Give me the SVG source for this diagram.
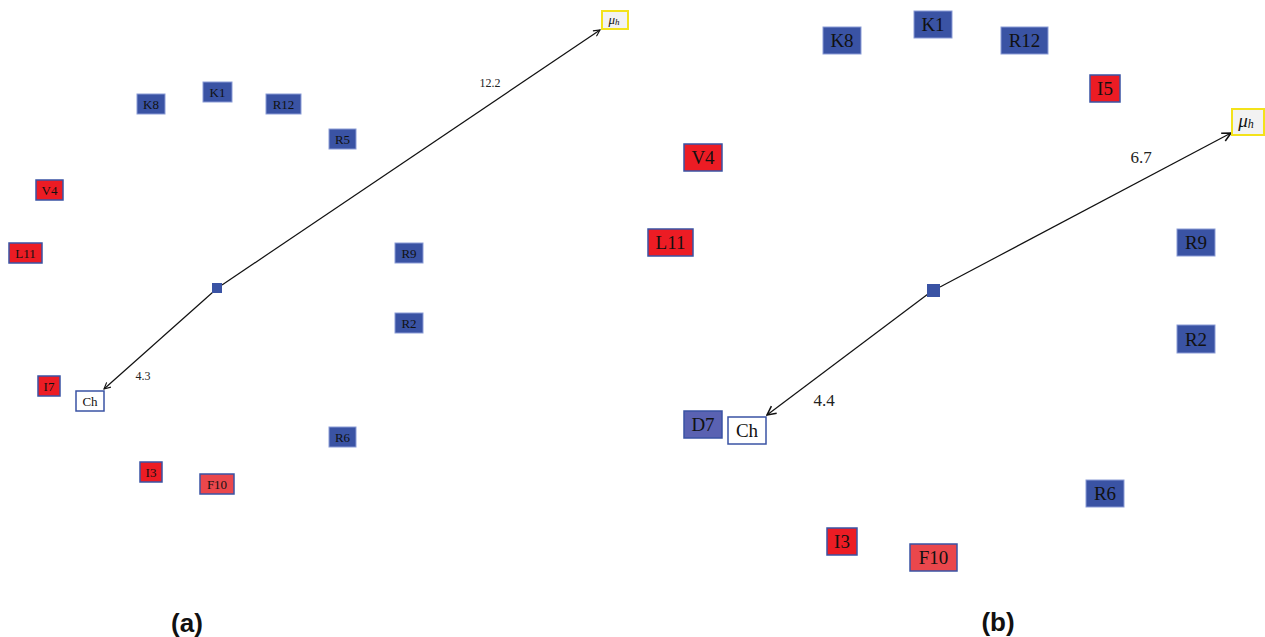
<svg xmlns="http://www.w3.org/2000/svg" width="1265" height="637" viewBox="0 0 1265 637">
<style>
.b{fill:#3a53a4;stroke:#8a9bd6;stroke-width:1}
.r{fill:#ec1c24;stroke:#3a53a4;stroke-width:1.5}
.f{fill:#ea474c;stroke:#3a53a4;stroke-width:1.5}
.d{fill:#5a62b2;stroke:#3a53a4;stroke-width:1.5}
.c{fill:#ffffff;stroke:#3a53a4;stroke-width:1.5}
.m{fill:#f2f2f2;stroke:#f3e21a;stroke-width:2}
.sq{fill:#3a53a4}
.ta{font-family:"Liberation Serif",serif;font-size:13px;fill:#111;text-anchor:middle;dominant-baseline:central}
.tb{font-family:"Liberation Serif",serif;font-size:19px;fill:#111;text-anchor:middle;dominant-baseline:central}
.la{font-family:"Liberation Serif",serif;font-size:12px;fill:#222;text-anchor:middle}
.lb{font-family:"Liberation Serif",serif;font-size:17px;fill:#222;text-anchor:middle}
.cap{font-family:"Liberation Sans",sans-serif;font-size:26px;font-weight:bold;fill:#111;text-anchor:middle}
.e{stroke:#111;stroke-width:1.2;fill:none}
</style>
<defs>
<marker id="ah" viewBox="0 0 10 10" refX="9" refY="5" markerWidth="8" markerHeight="8" markerUnits="userSpaceOnUse" orient="auto"><path d="M1,1 L9,5 L1,9" fill="none" stroke="#111" stroke-width="1.4"/></marker>
<marker id="ahb" viewBox="0 0 10 10" refX="9" refY="5" markerWidth="11" markerHeight="11" markerUnits="userSpaceOnUse" orient="auto"><path d="M1,1 L9,5 L1,9" fill="none" stroke="#111" stroke-width="1.4"/></marker>
</defs>
<g id="connectors">
<line class="e" x1="222" y1="285" x2="600" y2="30" marker-end="url(#ah)"/>
<line class="e" x1="213" y1="292" x2="104" y2="389" marker-end="url(#ah)"/>
<line class="e" x1="940" y1="287" x2="1231" y2="133" marker-end="url(#ahb)"/>
<line class="e" x1="928" y1="294" x2="767" y2="415" marker-end="url(#ahb)"/>
</g>
<g id="labels">
<text class="la" x="490" y="87">12.2</text>
<text class="la" x="143" y="380">4.3</text>
<text class="lb" x="1141" y="163">6.7</text>
<text class="lb" x="824" y="406">4.4</text>
</g>
<g id="a-hub"><rect class="sq" x="212" y="283" width="10" height="10"/></g>
<g id="a-mu"><rect class="m" x="602" y="11" width="26" height="18"/><text class="ta" x="614" y="19" font-style="italic">μ<tspan font-size="9" dy="3">h</tspan></text></g>
<g id="a-K8"><rect class="b" x="137" y="94" width="28" height="20"/><text class="ta" x="151" y="104">K8</text></g>
<g id="a-K1"><rect class="b" x="203" y="82" width="29" height="20"/><text class="ta" x="217.5" y="92">K1</text></g>
<g id="a-R12"><rect class="b" x="266" y="94" width="35" height="20"/><text class="ta" x="283.5" y="104">R12</text></g>
<g id="a-R5"><rect class="b" x="329" y="129" width="27" height="20"/><text class="ta" x="342.5" y="139">R5</text></g>
<g id="a-V4"><rect class="r" x="36" y="180" width="27" height="20"/><text class="ta" x="49.5" y="190">V4</text></g>
<g id="a-L11"><rect class="r" x="9" y="243" width="33" height="20"/><text class="ta" x="25.5" y="253">L11</text></g>
<g id="a-R9"><rect class="b" x="395" y="243" width="28" height="20"/><text class="ta" x="409" y="253">R9</text></g>
<g id="a-R2"><rect class="b" x="395" y="313" width="28" height="20"/><text class="ta" x="409" y="323">R2</text></g>
<g id="a-I7"><rect class="r" x="38" y="376" width="22" height="20"/><text class="ta" x="49" y="386">I7</text></g>
<g id="a-Ch"><rect class="c" x="76" y="391" width="28" height="20"/><text class="ta" x="90" y="401">Ch</text></g>
<g id="a-R6"><rect class="b" x="329" y="427" width="27" height="20"/><text class="ta" x="342.5" y="437">R6</text></g>
<g id="a-I3"><rect class="r" x="140" y="462" width="22" height="20"/><text class="ta" x="151" y="472">I3</text></g>
<g id="a-F10"><rect class="f" x="200" y="474" width="34" height="20"/><text class="ta" x="217" y="484">F10</text></g>
<text class="cap" x="187" y="632">(a)</text>
<g id="b-hub"><rect class="sq" x="927" y="284" width="13" height="13"/></g>
<g id="b-mu"><rect class="m" x="1232" y="109" width="32" height="26"/><text class="tb" x="1246" y="120" font-style="italic">μ<tspan font-size="12" dy="4">h</tspan></text></g>
<g id="b-K1"><rect class="b" x="914" y="11" width="38" height="27"/><text class="tb" x="933" y="24.5">K1</text></g>
<g id="b-K8"><rect class="b" x="823" y="27" width="38" height="27"/><text class="tb" x="842" y="40.5">K8</text></g>
<g id="b-R12"><rect class="b" x="1001" y="27" width="47" height="27"/><text class="tb" x="1024.5" y="40.5">R12</text></g>
<g id="b-I5"><rect class="r" x="1090" y="75" width="30" height="27"/><text class="tb" x="1105" y="88.5">I5</text></g>
<g id="b-V4"><rect class="r" x="684" y="144" width="38" height="27"/><text class="tb" x="703" y="157.5">V4</text></g>
<g id="b-L11"><rect class="r" x="648" y="229" width="45" height="27"/><text class="tb" x="670.5" y="242.5">L11</text></g>
<g id="b-R9"><rect class="b" x="1177" y="229" width="38" height="27"/><text class="tb" x="1196" y="242.5">R9</text></g>
<g id="b-R2"><rect class="b" x="1177" y="325" width="38" height="28"/><text class="tb" x="1196" y="339">R2</text></g>
<g id="b-D7"><rect class="d" x="684" y="411" width="38" height="27"/><text class="tb" x="703" y="424.5">D7</text></g>
<g id="b-Ch"><rect class="c" x="728" y="417" width="38" height="27"/><text class="tb" x="747" y="430.5">Ch</text></g>
<g id="b-R6"><rect class="b" x="1086" y="480" width="38" height="27"/><text class="tb" x="1105" y="493.5">R6</text></g>
<g id="b-I3"><rect class="r" x="827" y="528" width="30" height="27"/><text class="tb" x="842" y="541.5">I3</text></g>
<g id="b-F10"><rect class="f" x="910" y="544" width="47" height="27"/><text class="tb" x="933.5" y="557.5">F10</text></g>
<text class="cap" x="998" y="631">(b)</text>
</svg>
